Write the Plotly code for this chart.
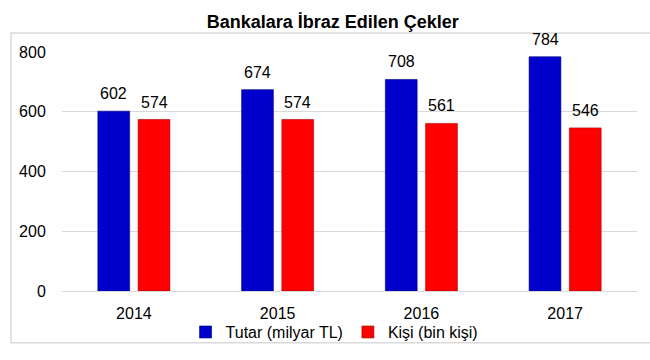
import plotly.graph_objects as go

years = ["2014", "2015", "2016", "2017"]
tutar = [602, 674, 708, 784]
kisi = [574, 574, 561, 546]
y_ticks = [0, 200, 400, 600, 800]

FONT = "Liberation Sans, Arial, sans-serif"
BARGAP = 0.44
GROUPGAP = 0.21
half_slot = (1 - BARGAP) / 4  # centre offset of each bar within a category

fig = go.Figure()
fig.add_trace(go.Bar(
    x=years, y=tutar, name="Tutar (milyar TL)",
    marker=dict(color="#0000CC", line=dict(color="#00007a", width=0.6)),
))
fig.add_trace(go.Bar(
    x=years, y=kisi, name="Kişi (bin kişi)",
    marker=dict(color="#FF0000", line=dict(color="#b00000", width=0.6)),
))

annotations = []
for i, (t, k) in enumerate(zip(tutar, kisi)):
    for off, v in ((-half_slot, t), (half_slot, k)):
        annotations.append(dict(
            x=i + off, y=v, xref="x", yref="y", text=str(v), showarrow=False,
            yanchor="bottom", yshift=7, font=dict(size=16, color="#000", family=FONT),
        ))

fig.update_layout(
    width=650, height=360,
    margin=dict(l=62, r=13, t=52, b=68),
    paper_bgcolor="white", plot_bgcolor="white",
    font=dict(family=FONT, size=16, color="#000"),
    title=dict(text="<b>Bankalara İbraz Edilen Çekler</b>", x=0.512, xref="container",
               xanchor="center", y=1 - 22 / 360, yref="container", yanchor="middle",
               font=dict(size=18, color="#000", family=FONT)),
    bargap=BARGAP, bargroupgap=GROUPGAP,
    showlegend=True,
    legend=dict(orientation="h", x=0.474, xanchor="center", y=-0.167, yanchor="middle",
                font=dict(size=16, color="#000"), traceorder="normal",
                itemwidth=30, bgcolor="rgba(0,0,0,0)"),
    xaxis=dict(showgrid=False, showline=False, zeroline=False,
               ticks="outside", ticklen=8, tickcolor="rgba(0,0,0,0)",
               tickfont=dict(size=16)),
    yaxis=dict(range=[0, 800], tickvals=y_ticks, showgrid=True, gridcolor="#d9d9d9",
               gridwidth=1, zeroline=True, zerolinecolor="#d9d9d9", zerolinewidth=1,
               showline=False, ticks="outside", ticklen=12, tickcolor="rgba(0,0,0,0)",
               tickfont=dict(size=16)),
    annotations=annotations,
    shapes=[dict(type="rect", xref="paper", yref="paper",
                 x0=(11 - 62) / 575, x1=(670 - 62) / 575,
                 y0=(292 - 344) / 240, y1=(292 - 33) / 240,
                 line=dict(color="#d9d9d9", width=1.5), fillcolor="rgba(0,0,0,0)",
                 layer="below")],
)

fig.write_html("out.html")
